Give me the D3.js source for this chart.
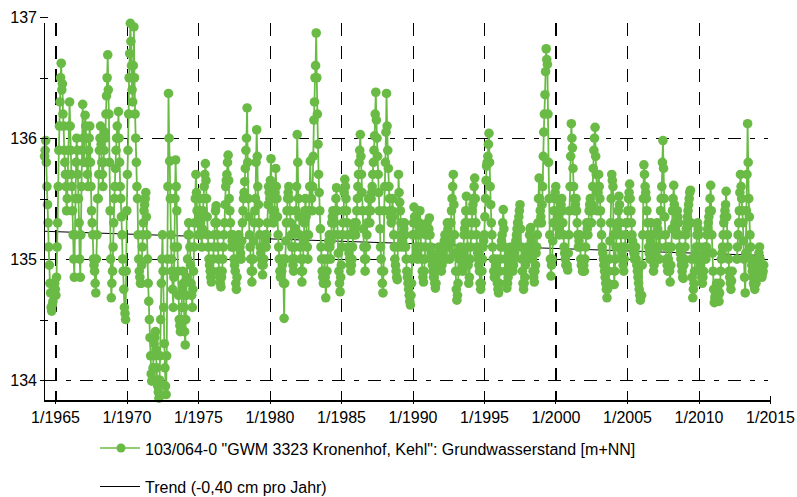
<!DOCTYPE html>
<html lang="de">
<head>
<meta charset="UTF-8">
<title>Grundwasserstand GWM 3323 Kronenhof, Kehl</title>
<script src="https://d3js.org/d3.v7.min.js"></script>
<style>
    body { margin: 0; background: #fff; }
    svg { display: block; font-family: "Liberation Sans", Arial, sans-serif; }
    .grid line, .axis line, .axis-line { shape-rendering: crispEdges; }
</style>
</head>
<body>
<svg id="chart" width="797" height="497"></svg>
<script>
// readings (m+NN) around the 8th of each month, first value = April 1964
const lv60s = [
    135.85, 135.98, 135.6, 135.3, 134.95, 134.72, 134.57, 134.65, 134.7,
    134.75, 134.85, 135.3, 135.9, 136.3, 136.62, 136.45, 136.1, 135.8, 135.6, 135.5, 135.9,
    136.3, 135.9, 135.6, 135.2, 134.85, 135.5, 136.0, 135.7, 135.3, 134.85, 135.6, 136.28,
    135.8, 136.19, 136.0, 135.7, 135.9, 136.1, 135.6, 135.3, 135.0, 134.9, 134.72, 135.2,
    135.5, 135.9, 136.1, 135.8, 135.6, 135.9, 136.0, 136.35, 136.69, 136.2, 135.4, 134.68,
    134.9, 135.3, 135.6, 135.9, 136.1, 136.22, 135.8, 135.5, 135.2, 134.9, 134.6, 134.5
];
const lv70s = [
    135.4, 135.9, 136.5, 136.95, 136.6, 136.3, 136.92, 136.2, 135.8, 135.5, 135.0, 134.85,
    134.8, 135.1, 135.3, 135.45, 135.55, 135.2, 134.8, 134.5, 134.2, 133.99, 134.1, 134.3,
    134.4, 134.1, 133.95, 133.85, 134.2, 134.8, 135.2, 134.6, 134.1, 133.88, 135.0, 136.37,
    135.81, 135.2, 134.9, 134.6, 135.1, 135.82, 135.4, 134.9, 134.5, 134.4, 134.6, 134.9,
    134.6, 134.29, 134.7, 135.0, 135.3, 135.1, 134.8, 134.6, 134.9, 135.3, 135.7, 135.4,
    135.2, 135.5, 135.3, 135.1, 135.4, 135.6, 135.79, 135.5, 135.2, 135.0, 134.9, 134.81,
    134.9, 135.1, 135.3, 135.44, 135.2, 135.0, 134.85, 134.77, 134.9, 135.1, 135.3, 135.6,
    135.7, 135.86, 135.5, 135.3, 135.1, 135.2, 135.0, 134.9, 134.75, 135.0, 135.2, 135.1,
    135.0, 135.3, 135.5, 135.64, 135.9, 136.25, 135.5, 135.2, 135.0, 134.81, 135.0, 135.3,
    135.5, 136.07, 135.6, 135.3, 135.1, 135.0, 134.87, 135.0, 135.2, 135.1, 135.3, 135.6
];
const lv80s = [
    135.5, 135.83, 135.5, 135.3, 135.4, 135.75, 135.5, 135.2, 135.0, 134.85, 134.9, 135.0,
    134.51, 135.0, 135.3, 135.5, 135.6, 135.4, 135.2, 135.0, 134.9, 135.1, 135.4, 136.03,
    135.5, 135.2, 135.0, 134.81, 135.0, 135.3, 135.5, 135.2, 135.0, 135.4, 135.81, 135.5,
    135.6, 136.15, 136.5, 136.87, 136.2, 135.7, 135.4, 135.1, 134.9, 134.8, 135.0, 134.68,
    134.9, 135.1, 135.2, 135.0, 135.3, 135.4, 135.2, 135.4, 135.59, 135.2, 134.9, 134.73,
    134.95, 135.2, 135.4, 135.66, 135.5, 135.3, 135.1, 135.0, 134.9, 135.0, 135.2, 135.3,
    135.2, 135.4, 135.6, 135.8, 136.03, 135.7, 135.4, 135.1, 134.9, 135.1, 135.3, 135.5,
    135.3, 135.5, 135.6, 135.8, 136.02, 136.38, 136.0, 135.7, 135.4, 135.1, 134.9, 134.72,
    135.4, 135.8, 136.37, 135.9, 135.6, 135.4, 135.3, 135.5, 135.2, 135.0, 134.9, 134.83,
    135.7, 135.47, 135.3, 135.1, 135.2, 135.3, 135.1, 134.9, 134.8, 134.7, 134.62, 134.8
];
const lv90s = [
    135.2, 135.43, 135.3, 135.1, 135.0, 135.2, 135.4, 135.1, 134.9, 134.81, 135.0, 135.2,
    135.3, 135.2, 135.34, 135.1, 135.0, 134.9, 134.85, 134.76, 134.9, 135.0, 135.1, 135.0,
    134.9, 135.0, 135.1, 135.2, 135.0, 135.3, 135.2, 135.0, 135.3, 135.5, 135.7, 135.2,
    134.9, 134.66, 134.8, 135.0, 135.1, 135.0, 134.9, 135.2, 135.3, 135.52, 135.1, 134.8,
    135.0, 135.2, 135.4, 135.5, 135.67, 135.3, 135.1, 135.0, 134.9, 134.75, 134.9, 135.1,
    135.2, 135.5, 135.77, 135.85, 136.04, 135.6, 135.3, 135.1, 134.9, 134.85, 135.0, 134.8,
    134.72, 134.9, 135.1, 135.2, 135.41, 135.1, 134.9, 134.76, 134.85, 135.0, 135.1, 135.0,
    134.9, 135.0, 135.1, 135.2, 135.3, 135.35, 135.45, 135.1, 134.9, 134.75, 134.85, 135.0,
    135.1, 135.0, 135.2, 135.26, 135.1, 134.9, 134.81, 134.95, 135.1, 135.3, 135.67, 135.4,
    135.3, 135.6, 136.05, 136.36, 136.74, 136.61, 135.8, 135.2, 134.86, 135.0, 135.3, 135.5
];
const lv00s = [
    135.6, 135.4, 135.3, 135.2, 135.4, 135.5, 135.3, 135.1, 135.0, 134.95, 134.91, 135.2,
    135.6, 136.12, 135.92, 135.6, 135.4, 135.5, 135.3, 135.1, 135.2, 135.0, 134.95, 134.9,
    134.9, 135.1, 135.3, 135.2, 135.4, 135.5, 135.3, 135.6, 135.9, 136.09, 135.7, 135.4,
    135.7, 135.5, 135.3, 135.1, 135.0, 134.9, 134.8, 134.68, 134.8, 135.0, 135.3, 135.7,
    135.6, 134.79, 135.0, 135.2, 135.3, 135.52, 135.3, 135.1, 135.0, 134.9, 135.1, 135.3,
    135.3, 135.5, 135.62, 135.4, 135.2, 135.1, 135.0, 135.1, 134.95, 134.85, 134.75, 134.66,
    134.7, 135.2, 135.78, 135.6, 135.5, 135.3, 135.1, 135.0, 135.3, 135.1, 134.9, 135.0,
    135.1, 135.3, 135.2, 135.0, 135.4, 135.6, 135.98, 135.5, 135.2, 135.0, 134.9, 135.1,
    134.81, 135.1, 135.4, 135.61, 135.3, 135.2, 135.4, 135.3, 135.1, 135.0, 134.9, 134.84,
    135.0, 135.2, 135.3, 135.4, 135.5, 135.57, 135.0, 134.68, 134.8, 135.0, 135.1, 135.3
];
const lv10s = [
    135.2, 135.0, 134.9, 134.8, 134.9, 135.1, 135.0, 135.2, 135.3, 135.4, 135.61, 135.2,
    134.9, 134.64, 134.7, 134.8, 134.75, 134.65, 134.8, 135.0, 135.1, 135.3, 135.4, 135.56,
    135.2, 135.0, 134.85, 134.75, 134.9, null, null, null, 135.0, 135.2, 135.4, 135.7,
    135.5, 135.3, 135.0, 134.72, 135.4, 136.12, 135.5, 135.2, 135.0, 134.9, 134.8, 134.75,
    134.8, 134.9, 135.0, 135.1, 134.95, 134.85, 134.9
];

// readings around the 23rd of each month
const md60s = [
    135.9, 135.8, 135.45, 135.1, 134.8, 134.6, 134.62, 134.75, 134.8,
    134.7, 135.1, 135.6, 136.1, 136.5, 136.4, 136.2, 135.9, 135.7, 135.4, 135.7, 136.1,
    136.1, 135.7, 135.4, 135.0, 135.2, 135.8, 135.9, 135.5, 135.0, 135.2, 135.9, 136.0,
    136.0, 136.1, 135.8, 135.6, 136.0, 135.8, 135.4, 135.2, 134.95, 134.8, 135.0, 135.5,
    135.7, 136.0, 135.95, 135.7, 135.8, 136.05, 136.2, 136.5, 136.4, 135.8, 135.0, 134.8,
    135.1, 135.5, 135.75, 136.0, 136.0, 136.0, 135.6, 135.35, 135.0, 134.75, 134.55, 134.9
];
const md70s = [
    135.7, 136.2, 136.7, 136.8, 136.4, 136.6, 136.5, 136.0, 135.6, 135.2, 134.9, 134.8,
    134.95, 135.2, 135.4, 135.5, 135.35, 135.0, 134.65, 134.35, 134.05, 134.0, 134.2, 134.35,
    134.25, 134.0, 133.9, 134.0, 134.5, 135.0, 134.9, 134.3, 133.95, 134.2, 135.6, 136.0,
    135.5, 135.0, 134.75, 134.85, 135.5, 135.6, 135.1, 134.7, 134.45, 134.5, 134.75, 134.8,
    134.4, 134.5, 134.85, 135.2, 135.2, 134.95, 134.7, 134.75, 135.1, 135.5, 135.55, 135.3,
    135.35, 135.4, 135.2, 135.25, 135.5, 135.7, 135.65, 135.35, 135.1, 134.95, 134.85, 134.9,
    135.0, 135.2, 135.4, 135.3, 135.1, 134.9, 134.8, 134.85, 135.0, 135.2, 135.45, 135.65,
    135.8, 135.65, 135.4, 135.2, 135.15, 135.1, 134.95, 134.8, 134.85, 135.1, 135.15, 135.05,
    135.15, 135.4, 135.55, 135.75, 136.0, 135.8, 135.35, 135.1, 134.9, 134.9, 135.15, 135.4,
    135.8, 135.85, 135.45, 135.2, 135.05, 134.95, 134.95, 135.1, 135.15, 135.2, 135.45, 135.55
];
const md80s = [
    135.65, 135.6, 135.4, 135.35, 135.55, 135.6, 135.35, 135.1, 134.9, 134.9, 134.95, 134.8,
    134.8, 135.15, 135.4, 135.55, 135.5, 135.3, 135.1, 134.95, 135.0, 135.25, 135.6, 135.8,
    135.35, 135.1, 134.9, 134.9, 135.15, 135.4, 135.35, 135.1, 135.2, 135.6, 135.6, 135.4,
    135.85, 136.3, 136.6, 136.5, 135.95, 135.55, 135.25, 135.0, 134.85, 134.9, 134.85, 134.8,
    135.0, 135.15, 135.1, 135.15, 135.35, 135.3, 135.3, 135.5, 135.4, 135.05, 134.8, 134.85,
    135.1, 135.3, 135.55, 135.6, 135.4, 135.2, 135.05, 134.95, 134.95, 135.1, 135.25, 135.25,
    135.3, 135.5, 135.7, 135.9, 135.85, 135.55, 135.25, 135.0, 135.0, 135.2, 135.4, 135.4,
    135.4, 135.55, 135.7, 135.9, 136.2, 136.15, 135.85, 135.55, 135.25, 135.0, 134.8, 134.9,
    135.6, 136.05, 136.1, 135.75, 135.5, 135.35, 135.4, 135.35, 135.1, 134.95, 134.85, 135.1,
    135.55, 135.4, 135.2, 135.15, 135.25, 135.2, 135.0, 134.85, 134.75, 134.65, 134.7, 135.0
];
const md90s = [
    135.3, 135.35, 135.2, 135.05, 135.1, 135.3, 135.25, 135.0, 134.85, 134.9, 135.1, 135.25,
    135.25, 135.25, 135.2, 135.05, 134.95, 134.85, 134.8, 134.8, 134.95, 135.05, 135.05, 134.95,
    134.95, 135.05, 135.15, 135.1, 135.15, 135.25, 135.1, 135.15, 135.4, 135.6, 135.45, 135.05,
    134.75, 134.7, 134.9, 135.05, 135.05, 134.95, 135.05, 135.25, 135.4, 135.3, 134.95, 134.85,
    135.1, 135.3, 135.45, 135.6, 135.5, 135.2, 135.05, 134.95, 134.8, 134.8, 135.0, 135.15,
    135.35, 135.65, 135.8, 135.95, 135.8, 135.45, 135.2, 135.0, 134.85, 134.95, 134.9, 134.75,
    134.8, 135.0, 135.15, 135.3, 135.25, 135.0, 134.8, 134.8, 134.95, 135.05, 135.05, 134.95,
    134.95, 135.05, 135.15, 135.25, 135.3, 135.4, 135.25, 135.0, 134.8, 134.8, 134.95, 135.05,
    135.05, 135.1, 135.25, 135.15, 135.0, 134.85, 134.9, 135.05, 135.2, 135.5, 135.5, 135.35,
    135.45, 135.85, 136.2, 136.55, 136.65, 136.2, 135.5, 135.0, 134.95, 135.15, 135.4, 135.55
];
const md00s = [
    135.5, 135.35, 135.25, 135.3, 135.45, 135.4, 135.2, 135.05, 134.95, 134.95, 135.05, 135.4,
    135.85, 136.0, 135.75, 135.5, 135.45, 135.4, 135.2, 135.15, 135.1, 134.95, 134.9, 134.95,
    135.0, 135.2, 135.25, 135.3, 135.45, 135.4, 135.45, 135.75, 136.0, 135.85, 135.55, 135.55,
    135.6, 135.4, 135.2, 135.05, 134.95, 134.85, 134.75, 134.75, 134.9, 135.15, 135.5, 135.65,
    135.2, 134.9, 135.1, 135.25, 135.4, 135.45, 135.2, 135.05, 134.95, 135.0, 135.2, 135.3,
    135.4, 135.55, 135.5, 135.3, 135.15, 135.05, 135.05, 135.0, 134.9, 134.8, 134.7, 134.7,
    134.95, 135.5, 135.7, 135.55, 135.4, 135.2, 135.05, 135.15, 135.2, 135.0, 134.95, 135.05,
    135.2, 135.25, 135.1, 135.2, 135.5, 135.8, 135.75, 135.35, 135.1, 134.95, 135.0, 134.9,
    134.95, 135.25, 135.5, 135.45, 135.25, 135.3, 135.35, 135.2, 135.05, 134.95, 134.85, 134.95,
    135.1, 135.25, 135.35, 135.45, 135.55, 135.3, 134.85, 134.75, 134.9, 135.05, 135.2, 135.25
];
const md10s = [
    135.1, 134.95, 134.85, 134.85, 135.0, 135.05, 135.1, 135.25, 135.35, 135.5, 135.4, 135.05,
    134.75, 134.68, 134.75, 134.78, 134.7, 134.72, 134.9, 135.05, 135.2, 135.35, 135.45, 135.35,
    135.1, 134.9, 134.8, 134.82, null, null, null, null, 135.1, 135.3, 135.55, 135.6,
    135.4, 135.15, 134.85, 135.05, 135.7, 135.8, 135.35, 135.1, 134.95, 134.85, 134.78, 134.8,
    134.85, 134.95, 135.05, 135.0, 134.9, 134.88, 134.95
];

// linear trend (-0,40 cm pro Jahr), value at first and last reading
const trendLevels = [135.23, 135.03];

const yTicks = [134, 134.5, 135, 135.5, 136, 136.5, 137];
const yGrid = [134, 135, 136];
const xTickYears = [1965, 1970, 1975, 1980, 1985, 1990, 1995, 2000, 2005, 2010, 2015];

const seriesName = '103/064-0 "GWM 3323 Kronenhof, Kehl": Grundwasserstand [m+NN]';
const trendName = "Trend (-0,40 cm pro Jahr)";

const green = "#6abb46";

const early = [].concat(lv60s, lv70s, lv80s, lv90s, lv00s, lv10s);
const late = [].concat(md60s, md70s, md80s, md90s, md00s, md10s);
const data = [];
early.forEach((v, i) => {
    data.push({ date: new Date(1964, 3 + i, 8), value: v });
    data.push({ date: new Date(1964, 3 + i, 23), value: late[i] });
});
const valid = data.filter(d => d.value !== null);

const svg = d3.select("#chart");
const plotLeft = 44, plotRight = 770, plotTop = 23, plotBottom = 400;

const x = d3.scaleTime()
    .domain([new Date(1964, 2, 25), new Date(2015, 0, 1)])
    .range([plotLeft, plotRight]);

const y = d3.scaleLinear()
    .domain([134, 137])
    .range([380, 17.3]);

// grid
const grid = svg.append("g").attr("class", "grid");
grid.selectAll(".vg")
    .data(xTickYears.filter(yr => yr < 2015))
    .enter().append("line")
    .attr("x1", d => Math.round(x(new Date(d, 0, 1))) + 0.5)
    .attr("x2", d => Math.round(x(new Date(d, 0, 1))) + 0.5)
    .attr("y1", plotTop)
    .attr("y2", plotBottom)
    .attr("stroke", "#000")
    .attr("stroke-width", d => (d === 1965 || d === 2000) ? 2 : 1)
    .attr("stroke-dasharray", "13,10");

grid.selectAll(".hg")
    .data(yGrid)
    .enter().append("line")
    .attr("x1", plotLeft)
    .attr("x2", plotRight - 2)
    .attr("y1", d => Math.round(y(d)) + 0.5)
    .attr("y2", d => Math.round(y(d)) + 0.5)
    .attr("stroke", "#000")
    .attr("stroke-dasharray", "13,9,5,9");

// trend
svg.append("path")
    .datum([
        { date: valid[0].date, value: trendLevels[0] },
        { date: valid[valid.length - 1].date, value: trendLevels[1] }
    ])
    .attr("fill", "none")
    .attr("stroke", "#000")
    .attr("stroke-width", 1)
    .attr("d", d3.line().x(d => x(d.date)).y(d => y(d.value)));

// series
const line = d3.line()
    .defined(d => d.value !== null)
    .x(d => x(d.date))
    .y(d => y(d.value));

svg.append("path")
    .datum(data)
    .attr("fill", "none")
    .attr("stroke", green)
    .attr("stroke-width", 1.8)
    .attr("d", line);

svg.append("g")
    .selectAll("circle")
    .data(valid)
    .enter().append("circle")
    .attr("cx", d => x(d.date))
    .attr("cy", d => y(d.value))
    .attr("r", 4.8)
    .attr("fill", green);

// y axis
const yAxis = svg.append("g")
    .attr("class", "axis")
    .attr("transform", `translate(${plotLeft},0)`)
    .call(d3.axisLeft(y)
        .tickValues(yTicks)
        .tickSize(4)
        .tickPadding(3)
        .tickFormat(d => Number.isInteger(d) ? d : ""));
yAxis.select(".domain").remove();
yAxis.selectAll(".tick line").attr("x1", 4);
yAxis.selectAll("text").attr("font-size", 16).attr("font-family", "Liberation Sans, Arial, sans-serif").attr("fill", "#000");

svg.append("line")
    .attr("class", "axis-line")
    .attr("x1", plotLeft + 0.5).attr("x2", plotLeft + 0.5)
    .attr("y1", plotTop).attr("y2", plotBottom)
    .attr("stroke", "#000");

// x axis
const xAxis = svg.append("g")
    .attr("class", "axis")
    .attr("transform", `translate(0,${plotBottom})`)
    .call(d3.axisBottom(x)
        .tickValues(xTickYears.map(yr => new Date(yr, 0, 1)))
        .tickSize(4)
        .tickPadding(7.6)
        .tickFormat(d3.timeFormat("%-m/%Y")));
xAxis.select(".domain").remove();
xAxis.selectAll(".tick line").attr("y1", -4);
xAxis.selectAll("text").attr("font-size", 16).attr("font-family", "Liberation Sans, Arial, sans-serif").attr("fill", "#000");

svg.append("line")
    .attr("class", "axis-line")
    .attr("x1", plotLeft).attr("x2", plotRight + 1)
    .attr("y1", plotBottom + 0.5).attr("y2", plotBottom + 0.5)
    .attr("stroke", "#000")
    .attr("stroke-width", 2);

// legend
const legend = svg.append("g").attr("font-size", 16).attr("fill", "#000");
const l1 = legend.append("g").attr("transform", "translate(100,448)");
l1.append("line").attr("x1", 0).attr("x2", 40).attr("stroke", green).attr("stroke-width", 1.5);
l1.append("circle").attr("cx", 21).attr("r", 4.5).attr("fill", green);
l1.append("text").attr("x", 45).attr("y", 7).text(seriesName);

const l2 = legend.append("g").attr("transform", "translate(100,486.5)");
l2.append("line").attr("x1", 0).attr("x2", 40).attr("stroke", "#000");
l2.append("text").attr("x", 45).attr("y", 6.3).text(trendName);
</script>
</body>
</html>
